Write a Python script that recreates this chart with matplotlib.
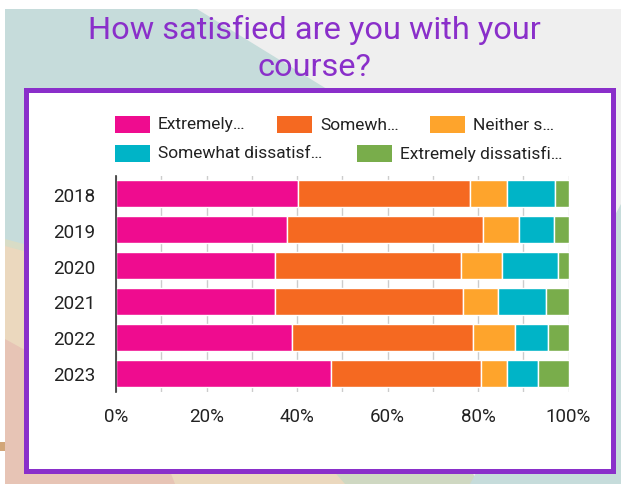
import matplotlib.pyplot as plt
from matplotlib.patches import Polygon, Rectangle
from matplotlib.ticker import FuncFormatter, MultipleLocator

plt.rcParams['font.family'] = ['Roboto', 'DejaVu Sans']

years = ['2018', '2019', '2020', '2021', '2022', '2023']
legend_labels = ['Extremely…', 'Somewh…', 'Neither s…',
                 'Somewhat dissatisf…', 'Extremely dissatisfi…']

# share of answers per year (%)
extremely_satisfied = [40.2, 37.7, 35.2, 35.2, 38.9, 47.6]
somewhat_satisfied = [38.1, 43.4, 41.0, 41.4, 40.0, 33.1]
neither = [8.1, 7.9, 9.2, 7.8, 9.3, 5.7]
somewhat_dissatisfied = [10.7, 7.8, 12.2, 10.7, 7.2, 6.9]
extremely_dissatisfied = [2.9, 3.2, 2.4, 4.9, 4.6, 6.7]

series = [extremely_satisfied, somewhat_satisfied, neither,
          somewhat_dissatisfied, extremely_dissatisfied]
colors = ['#ef0c8f', '#f56921', '#fea42c', '#00b4c7', '#79ad4b']
purple = '#8a2fca'

W, H = 621, 485
fig = plt.figure(figsize=(W / 100, H / 100), dpi=100)

# slide backdrop, drawn in pixel coordinates
bg = fig.add_axes([0, 0, 1, 1], zorder=0)
bg.set_xlim(0, W)
bg.set_ylim(H, 0)
bg.axis('off')

bg.add_patch(Rectangle((5, 10), W - 5, H - 10, color='#efefef', lw=0))
bg.add_patch(Polygon([(5, 10), (197, 10), (335, 95), (300, 320), (5, 250)],
                     color='#c6dcdb', lw=0))
bg.add_patch(Polygon([(5, 240), (200, 292), (200, 302), (5, 250)],
                     color='#d8dcc6', lw=0))
bg.add_patch(Polygon([(5, 247), (200, 300), (350, 485), (5, 485)],
                     color='#ebd8be', lw=0))
bg.add_patch(Polygon([(5, 340), (150, 420), (175, 485), (5, 485)],
                     color='#e7c4b5', lw=0))
bg.add_patch(Polygon([(330, 468), (470, 468), (478, 485), (345, 485)],
                     color='#cfd8c2', lw=0))
bg.add_patch(Polygon([(621, 205), (470, 485), (621, 485)],
                     color='#c6dcdb', lw=0))
bg.add_patch(Rectangle((0, 443), 5, 9, color='#d2a679', lw=0))

# white card with purple frame
bg.add_patch(Rectangle((25.5, 90.5), 587, 381, facecolor='white',
                       edgecolor=purple, lw=3.6))

bg.text(314, 30, 'How satisfied are you with your', ha='center',
        va='center', fontsize=23.4, color=purple)
bg.text(314, 67, 'course?', ha='center', va='center', fontsize=23.4,
        color=purple)

# legend rows
legend_pos = [(115, 125), (277, 125), (430, 125), (115, 154), (357, 154)]
for (lx, ly), label, c in zip(legend_pos, legend_labels, colors):
    bg.add_patch(Rectangle((lx, ly - 8.5), 35, 17, color=c, lw=0))
    bg.text(lx + 43, ly, label, ha='left', va='center', fontsize=12.5,
            color='#222222')

# stacked bars
ax = fig.add_axes([116 / W, 1 - 392.5 / H, 452.5 / W, 216 / H], zorder=2)
ax.patch.set_alpha(0)
left = [0] * len(years)
for vals, c in zip(series, colors):
    ax.barh(range(len(years)), vals, left=left, height=0.75, color=c,
            edgecolor='white', linewidth=1.0, zorder=2)
    left = [a + b for a, b in zip(left, vals)]

ax.set_xlim(0, 100)
ax.set_ylim(len(years) - 0.5, -0.5)
ax.set_yticks(range(len(years)))
ax.set_yticklabels(years)
ax.xaxis.set_major_locator(MultipleLocator(20))
ax.xaxis.set_minor_locator(MultipleLocator(10))
ax.xaxis.set_major_formatter(FuncFormatter(lambda v, p: f'{v:.0f}%'))
ax.grid(axis='x', which='both', color='#cccccc', lw=1.0, zorder=0)
ax.tick_params(axis='x', which='both', length=0, pad=11, labelsize=13.5,
               labelcolor='#222222')
ax.tick_params(axis='y', length=0, pad=15, labelsize=13.5,
               labelcolor='#222222')
for s in ['top', 'right', 'bottom']:
    ax.spines[s].set_visible(False)
ax.spines['left'].set_color('#333333')
ax.spines['left'].set_linewidth(1.2)
ax.spines['left'].set_zorder(3)

fig.savefig('out.png', dpi=100)
